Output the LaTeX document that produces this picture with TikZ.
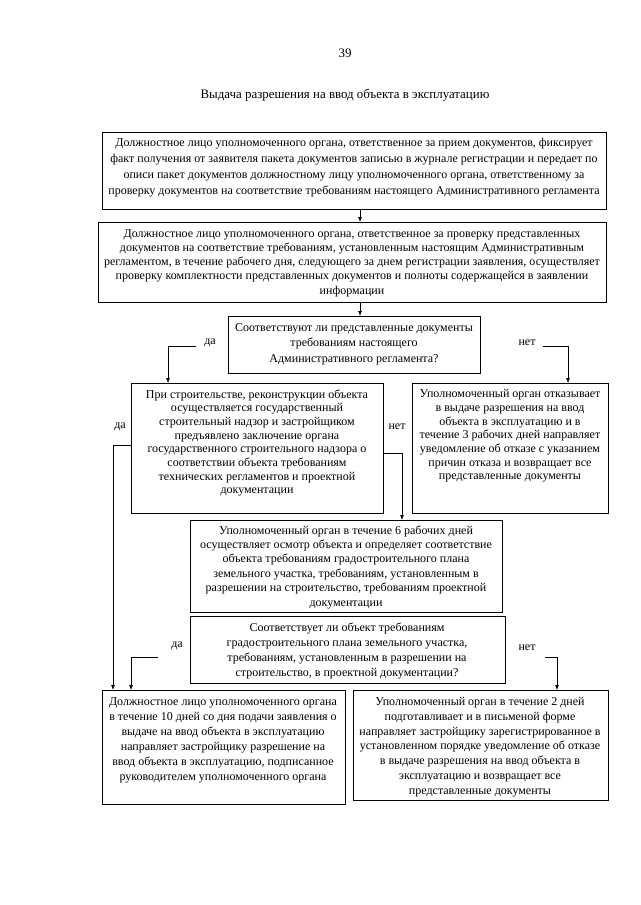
\documentclass[tikz,border=0pt]{standalone}
\usepackage{fontspec}
\setmainfont{Liberation Serif}
\usetikzlibrary{arrows.meta}
\begin{document}
\begin{tikzpicture}[x=1pt,y=-1pt,
  box/.style={draw, line width=0.9pt, inner sep=0pt, anchor=north west},
  txt/.style={align=center, inner sep=0pt},
  lbl/.style={inner sep=0pt, font=\fontsize{12pt}{14pt}\selectfont},
  arr/.style={line width=0.7pt, -{Latex[length=5pt,width=4pt]}}]
\useasboundingbox (0,0) rectangle (640,905);
\fill[white] (0,0) rectangle (640,905);
\node[lbl, font=\fontsize{12.9pt}{14pt}\selectfont] (pg) at (345,53) {39};
\node[lbl, font=\fontsize{12.9pt}{14pt}\selectfont] (title) at (345,95) {Выдача разрешения на ввод объекта в эксплуатацию};
% boxes
\node[box, minimum width=504pt, minimum height=77pt] (b1) at (102,132) {};
\node[box, minimum width=508pt, minimum height=80pt] (b2) at (98,222) {};
\node[box, minimum width=252pt, minimum height=57pt] (q1) at (228,316) {};
\node[box, minimum width=252pt, minimum height=130pt] (lb) at (131,383) {};
\node[box, minimum width=196pt, minimum height=130pt] (rb) at (412,383) {};
\node[box, minimum width=312pt, minimum height=92pt] (cb) at (190,520) {};
\node[box, minimum width=315pt, minimum height=67pt] (q2) at (190,616) {};
\node[box, minimum width=243pt, minimum height=114pt] (fb1) at (102,690) {};
\node[box, minimum width=255pt, minimum height=110pt] (fb2) at (353,690) {};
% texts
\node[txt, font=\fontsize{12pt}{16pt}\selectfont] (t1) at (354,168) {Должностное лицо уполномоченного органа, ответственное за прием документов, фиксирует\\факт получения от заявителя пакета документов записью в журнале регистрации и передает по\\описи пакет документов должностному лицу уполномоченного органа, ответственному за\\проверку документов на соответствие требованиям настоящего Административного регламента};
\node[txt, font=\fontsize{12pt}{14.3pt}\selectfont] (t2) at (352,263) {Должностное лицо уполномоченного органа, ответственное за проверку представленных\\документов на соответствие требованиям, установленным настоящим Административным\\регламентом, в течение рабочего дня, следующего за днем регистрации заявления, осуществляет\\проверку комплектности представленных документов и полноты содержащейся в заявлении\\информации};
\node[txt, font=\fontsize{12pt}{15.5pt}\selectfont] (tq1) at (354,344) {Соответствуют ли представленные документы\\требованиям настоящего\\Административного регламента?};
\node[txt, font=\fontsize{12pt}{13.7pt}\selectfont] (tlb) at (257,443) {При строительстве, реконструкции объекта\\осуществляется государственный\\строительный надзор и застройщиком\\предъявлено заключение органа\\государственного строительного надзора о\\соответствии объекта требованиям\\технических регламентов и проектной\\документации};
\node[txt, font=\fontsize{12pt}{13.7pt}\selectfont] (trb) at (510,436) {Уполномоченный орган отказывает\\в выдаче разрешения на ввод\\объекта в эксплуатацию и в\\течение 3 рабочих дней направляет\\уведомление об отказе с указанием\\причин отказа и возвращает все\\представленные документы};
\node[txt, font=\fontsize{12pt}{14.4pt}\selectfont] (tcb) at (346,567) {Уполномоченный орган в течение 6 рабочих дней\\осуществляет осмотр объекта и определяет соответствие\\объекта требованиям градостроительного плана\\земельного участка, требованиям, установленным в\\разрешении на строительство, требованиям проектной\\документации};
\node[txt, font=\fontsize{12pt}{15.3pt}\selectfont] (tq2) at (347,651) {Соответствует ли объект требованиям\\градостроительного плана земельного участка,\\требованиям, установленным в разрешении на\\строительство, в проектной документации?};
\node[txt, font=\fontsize{12pt}{15pt}\selectfont] (tfb1) at (223,740) {Должностное лицо уполномоченного органа\\в течение 10 дней со дня подачи заявления о\\выдаче на ввод объекта в эксплуатацию\\направляет застройщику разрешение на\\ввод объекта в эксплуатацию, подписанное\\руководителем уполномоченного органа};
\node[txt, font=\fontsize{12pt}{14.8pt}\selectfont] (tfb2) at (480,747) {Уполномоченный орган в течение 2 дней\\подготавливает и в письменой форме\\направляет застройщику зарегистрированное в\\установленном порядке уведомление об отказе\\в выдаче разрешения на ввод объекта в\\эксплуатацию и возвращает все\\представленные документы};
% labels
\node[lbl] (da1) at (210,343) {да};
\node[lbl] (net1) at (527,343) {нет};
\node[lbl] (da2) at (120,427) {да};
\node[lbl] (net2) at (397,427) {нет};
\node[lbl] (da3) at (177,646) {да};
\node[lbl] (net3) at (527,648) {нет};
% connector coordinates
\coordinate (vx) at (360,0);
\coordinate (da1s) at (196,346);
\coordinate (net1s) at (543,346);
\coordinate (da3s) at (158,657);
\coordinate (net3s) at (545,657);
% connectors
\draw[arr] (b1.south -| vx) -- (b2.north -| vx);
\draw[arr] (b2.south -| vx) -- (q1.north -| vx);
\draw[arr] (da1s) -| ([xshift=37pt]lb.north west);
\draw[arr] (net1s) -| ([xshift=156pt]rb.north west);
\draw[arr] ([yshift=3pt]lb.west) -| ([xshift=11pt]fb1.north west);
\draw[arr] ([yshift=-5pt]lb.east) -| ([xshift=212pt]cb.north west);
\draw[arr] (da3s) -| ([xshift=29pt]fb1.north west);
\draw[arr] (net3s) -| ([xshift=204pt]fb2.north west);
\end{tikzpicture}
\end{document}
